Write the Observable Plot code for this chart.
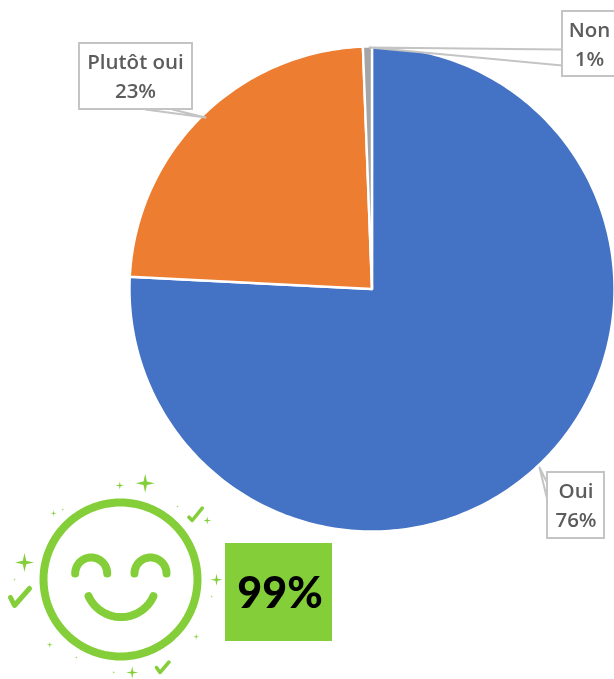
<!DOCTYPE html>
<html><head><meta charset="utf-8">
<script src="https://cdn.jsdelivr.net/npm/d3@7"></script>
<script src="https://cdn.jsdelivr.net/npm/@observablehq/plot@0.6"></script>
<style>html,body{margin:0;padding:0;background:#fff}svg{display:block}</style>
</head><body><div id="chart"></div>
<script>
// Chart data
const categories = ["Oui", "Plutôt oui", "Non"];
const shares = [75.8, 23.6, 0.6];
const printedLabels = ["76%", "23%", "1%"];
const sliceColors = ["#4472c4", "#ed7d31", "#a5a5a5"];
const headline = "99%";

// Layout (scale units equal pixels)
const W = 614, H = 679;
const pieCenter = [371.5, 288.5], pieRadius = 242.5;
const labelBoxes = [
  {x1: 547, x2: 604, y1: 472, y2: 538, tx: 575.5},
  {x1: 79, x2: 192, y1: 43, y2: 109, tx: 135},
  {x1: 562, x2: 622, y1: 11, y2: 76, tx: 589}
];
const leaders = [
  [[547, 500], [539, 467], [547, 483]],
  [[145, 109], [205, 117], [172, 109]],
  [[562, 49], [369, 47], [562, 65]]
];
const badge = {x1: 225, x2: 332, y1: 543, y2: 641};
const green = "#84cf39";
const face = {c: [120, 579], r: 77};
const eyes = [[90.7, 573], [150, 573]], eyeRadius = 16;
const mouth = {c: [120.5, 581], r: 35.6, half: 65.6};
const sparkles = [[144.7,482.7,9.5],[119.3,485,4],[206.7,520,4],[177,506,1.5],[53,512.7,3],[62.3,509,1.5],
  [24,562,9.5],[14,579,1.5],[216,579.3,6],[211.3,596,1.5],[195.7,636.3,3],[49.3,644.3,3],[75.7,657,1.5],
  [113.3,671.7,1.5],[131.7,672,6]];
const checks = [
  {w: 3.5, p: [[188.5,516.7],[191.7,520],[201.7,507.7]]},
  {w: 5, p: [[10,597],[14,605],[29,588]]},
  {w: 3.5, p: [[156,667],[159.5,672],[168.5,661.5]]}
];

// Geometry helpers
const polar = (c, r, deg) => {
  const a = deg * Math.PI / 180;
  return [c[0] + r * Math.sin(a), c[1] - r * Math.cos(a)];
};
const arc = (c, r, from, to, n = 60) =>
  d3.range(n + 1).map(i => polar(c, r, from + (to - from) * i / n));
const total = d3.sum(shares);
let cum = 0;
const slices = shares.map((v, i) => {
  const from = cum / total * 360; cum += v;
  const to = cum / total * 360;
  return {color: sliceColors[i], pts: [pieCenter, ...arc(pieCenter, pieRadius, from, to, Math.max(4, Math.ceil(to - from))), pieCenter]};
});
const sparklePts = sparkles.flatMap(([x, y, r], k) =>
  d3.range(9).map(i => {
    const rr = i % 2 ? r * 0.25 : r;
    const a = i * Math.PI / 4;
    return {k, x: x + rr * Math.sin(a), y: y - rr * Math.cos(a)};
  }));
const X = d => d[0], Y = d => d[1];

const chart = Plot.plot({
  width: W, height: H, margin: 0,
  style: {background: "#fff", filter: "blur(0.45px)"},
  x: {domain: [0, W], range: [0, W], axis: null},
  y: {domain: [0, H], range: [0, H], axis: null},
  marks: [
    ...slices.map(s => Plot.line(s.pts, {x: X, y: Y, fill: s.color, stroke: "#fff", strokeWidth: 2.4, curve: "linear"})),
    ...leaders.map(l => Plot.line(l, {x: X, y: Y, stroke: "#c4c4c4", strokeWidth: 2, fill: "#fff", curve: "linear"})),
    Plot.rect(labelBoxes, {x1: "x1", x2: "x2", y1: "y1", y2: "y2", fill: "#fff", stroke: "#c4c4c4", strokeWidth: 2}),
    Plot.text(labelBoxes, {x: "tx", y: d => d.y1 + 19, text: (d, i) => categories[i],
      fontFamily: "Open Sans", fontWeight: 600, fontSize: 20.5, fill: "#5c5c5c"}),
    Plot.text(labelBoxes, {x: "tx", y: d => d.y1 + 48, text: (d, i) => printedLabels[i],
      fontFamily: "Open Sans", fontWeight: 600, fontSize: 20.5, fill: "#5c5c5c"}),
    // Smiley
    Plot.line(arc(face.c, face.r, 0, 360, 120), {x: X, y: Y, stroke: green, strokeWidth: 8, curve: "linear"}),
    ...eyes.map(c => Plot.line(arc(c, eyeRadius, -90, 90), {x: X, y: Y, stroke: green, strokeWidth: 8, strokeLinecap: "round", curve: "linear"})),
    Plot.line(arc(mouth.c, mouth.r, 180 - mouth.half, 180 + mouth.half), {x: X, y: Y, stroke: green, strokeWidth: 8, strokeLinecap: "round", curve: "linear"}),
    Plot.line(sparklePts, {x: "x", y: "y", z: "k", fill: green, stroke: "none", curve: "linear"}),
    ...checks.map(c => Plot.line(c.p, {x: X, y: Y, stroke: green, strokeWidth: c.w, strokeLinecap: "round", strokeLinejoin: "round", curve: "linear"})),
    // Badge
    Plot.rect([badge], {x1: "x1", x2: "x2", y1: "y1", y2: "y2", fill: green}),
    Plot.text([headline], {x: (badge.x1 + badge.x2) / 2 + 1, y: (badge.y1 + badge.y2) / 2 + 2, text: d => d,
      fontFamily: "Lato", fontWeight: 900, fontSize: 43, fill: "#000"})
  ]
});
document.getElementById("chart").append(chart);
</script>
</body></html>
